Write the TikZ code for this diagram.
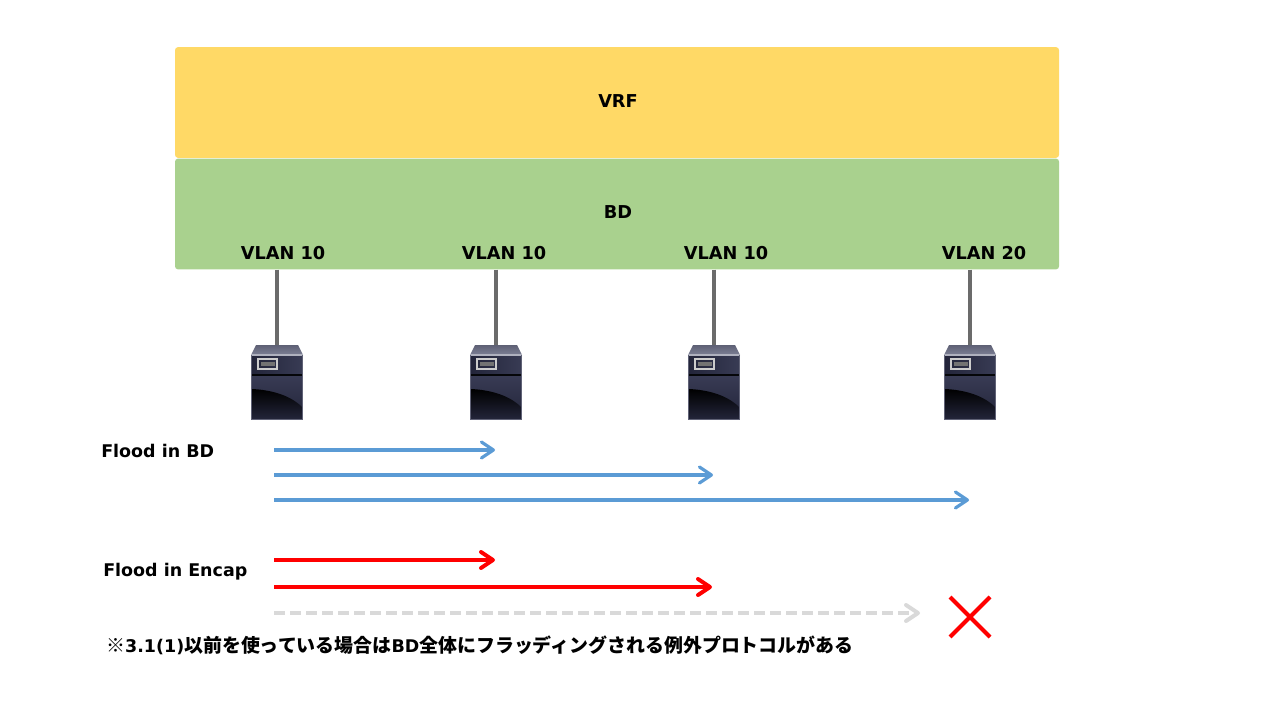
\documentclass[tikz,border=0pt]{standalone}
\usepackage{fontspec}
\setmainfont{Noto Sans CJK JP}
\newfontfamily\latinfont{DejaVu Sans}
\usepackage{xcolor}
\usetikzlibrary{arrows.meta}
\definecolor{vrfcol}{HTML}{FFD966}
\definecolor{bdcol}{HTML}{A9D18E}
\definecolor{floodcol}{HTML}{5B9BD5}
\definecolor{blockcol}{HTML}{D9D9D9}
\definecolor{srvtop}{HTML}{6E7189}
\definecolor{srvdark}{HTML}{23253A}
\definecolor{srvpanel}{HTML}{383B54}
\tikzset{
    band/.style={fill=#1, rounded corners=2.2pt, minimum width=663pt, minimum height=83pt},
    bandtext/.style={font=\fontsize{13.3}{15}\latinfont\bfseries},
    sidetext/.style={font=\fontsize{13.1}{15}\latinfont\bfseries, anchor=west, inner sep=0pt},
    notetext/.style={font=\fontsize{14.2}{16}\selectfont\bfseries, anchor=west, inner sep=0pt},
    wire/.style={draw=black!58, line width=2.3pt},
    floodbd/.style={->, draw=floodcol, line width=2.4pt},
    floodencap/.style={->, draw=red, line width=3pt},
    floodblock/.style={->, draw=blockcol, line width=3pt, dash pattern=on 8pt off 4pt},
}
% one server, its top left corner at x = #1, y = 345
\newcommand{\serverbox}[2]{
    \begin{scope}[shift={(#1, 345)}]
	\shade [top color=srvtop!85!black, bottom color=srvtop!90!white] (0, 10) -- (5, 0) -- (47, 0) -- (52, 10) -- cycle;
	\fill [srvdark] (0, 10) rectangle (52, 75);
	\fill [srvtop!55!white] (0, 9) rectangle (52, 11);
	\shade [left color=srvdark, right color=srvpanel] (1, 11) rectangle (51, 29);
	\shade [top color=srvpanel, bottom color=srvdark] (1, 31) rectangle (51, 74);
	\shade [top color=black, bottom color=srvdark] (1, 44) .. controls (22, 45) and (40, 51) .. (51, 62) -- (51, 74) -- (1, 74) -- cycle;
	\fill [black!85!srvdark] (0, 29) rectangle (52, 31);
	\draw [white!80!black, line width=1.5pt] (7, 14) rectangle (26, 24);
	\fill [black!55!white] (9.5, 17) rectangle (23.5, 21);
	\draw [srvpanel!80!white, line width=0.8pt] (0.5, 10) -- (0.5, 74.5) -- (51.5, 74.5) -- (51.5, 10);
	\path (26, 37.5) node [minimum width=39pt, minimum height=56pt, inner sep=0pt] (#2) {};
    \end{scope}
}

\begin{document}
\begin{tikzpicture}[x=0.75pt, y=-0.75pt,
    >={Straight Barb[length=9pt, width=12pt, line cap=round, round]}]
    \useasboundingbox (0, 0) rectangle (1280, 720);

    \path (617, 102.5) node [band=vrfcol] (vrf) {};
    \path (617, 214) node [band=bdcol] (bd) {};
    \path (618, 101) node [bandtext] (vrft) {VRF};
    \path (618, 212) node [bandtext] (bdt) {BD};
    \path (283, 253.5) node [bandtext] (vl1) {VLAN 10};
    \path (504, 253.5) node [bandtext] (vl2) {VLAN 10};
    \path (726, 253.5) node [bandtext] (vl3) {VLAN 10};
    \path (984, 253.5) node [bandtext] (vl4) {VLAN 20};

    \serverbox{251}{srv1}
    \serverbox{470}{srv2}
    \serverbox{688}{srv3}
    \serverbox{944}{srv4}
    \draw [wire] (srv1.north |- bd.south) -- (srv1.north);
    \draw [wire] (srv2.north |- bd.south) -- (srv2.north);
    \draw [wire] (srv3.north |- bd.south) -- (srv3.north);
    \draw [wire] (srv4.north |- bd.south) -- (srv4.north);

    \path (101, 450.5) node [sidetext] (fbd) {Flood in BD};
    \coordinate (b1s) at (274, 450);
    \coordinate (b1e) at (495, 450);
    \coordinate (b2s) at (274, 475);
    \coordinate (b2e) at (713, 475);
    \coordinate (b3s) at (274, 500);
    \coordinate (b3e) at (969, 500);
    \draw [floodbd] (b1s) -- (b1e);
    \draw [floodbd] (b2s) -- (b2e);
    \draw [floodbd] (b3s) -- (b3e);

    \path (103, 571.5) node [sidetext] (fen) {Flood in Encap};
    \coordinate (r1s) at (274, 560);
    \coordinate (r1e) at (495, 560);
    \coordinate (r2s) at (274, 587);
    \coordinate (r2e) at (712, 587);
    \coordinate (g1s) at (274, 613);
    \coordinate (g1e) at (920, 613);
    \draw [floodencap] (r1s) -- (r1e);
    \draw [floodencap] (r2s) -- (r2e);
    \draw [floodblock] (g1s) -- (g1e);

    \coordinate (xa) at (950, 597);
    \coordinate (xb) at (990, 637);
    \coordinate (xc) at (990, 597);
    \coordinate (xd) at (950, 637);
    \draw [red, line width=3pt] (xa) -- (xb);
    \draw [red, line width=3pt] (xc) -- (xd);

    \path (106, 645) node [notetext] (note) {※{\fontsize{13.1}{15}\latinfont\bfseries 3.1(1)}以前を使っている場合は{\fontsize{13.1}{15}\latinfont\bfseries BD}全体にフラッディングされる例外プロトコルがある};
\end{tikzpicture}
\end{document}
